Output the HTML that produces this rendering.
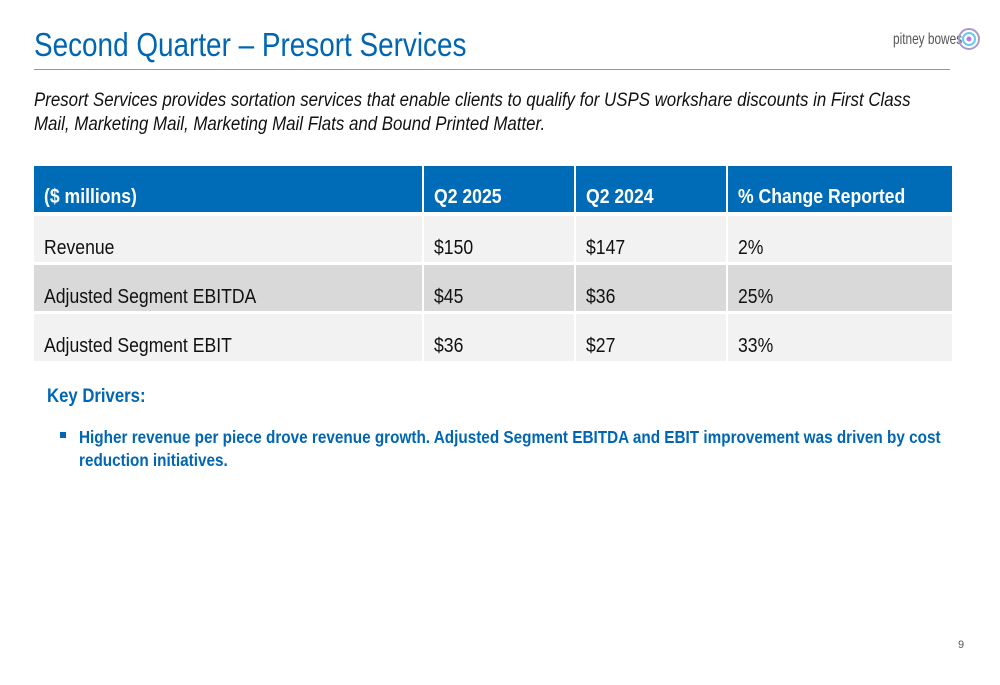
<!DOCTYPE html>
<html><head><meta charset="utf-8"><style>
body{margin:0;width:1000px;height:685px;background:#fff;position:relative;overflow:hidden;font-family:"Liberation Sans",sans-serif;}
.a{position:absolute;white-space:nowrap;transform-origin:0 0;}
.c{position:absolute;}
.cell{position:absolute;font-size:20px;color:#111;transform-origin:0 0;}
</style></head><body>
<div class="a" style="left:34px;top:26px;font-size:33px;color:#0066b3;transform:scaleX(0.845)">Second Quarter – Presort Services</div>
<div class="a" style="left:893px;top:31px;font-size:16px;color:#555;transform:scaleX(0.74)">pitney bowes</div>
<svg class="c" style="left:958px;top:28px" width="22" height="22"><circle cx="11" cy="11" r="10" fill="none" stroke="#a9c" stroke-width="2"/><circle cx="11" cy="11" r="6" fill="none" stroke="#6ce" stroke-width="2"/><circle cx="11" cy="11" r="2.5" fill="#b7d"/></svg>
<div class="c" style="left:34px;top:69px;width:916px;height:1px;background:#999"></div>
<div class="a" style="left:34px;top:88px;font-size:19.5px;font-style:italic;color:#111;line-height:24px;transform:scaleX(0.865)">Presort Services provides sortation services that enable clients to qualify for USPS workshare discounts in First Class<br>Mail, Marketing Mail, Marketing Mail Flats and Bound Printed Matter.</div>
<div>
<div class="c" style="left:34px;top:166px;width:388px;height:46px;background:#006cb7"></div>
<div class="c" style="left:424px;top:166px;width:150px;height:46px;background:#006cb7"></div>
<div class="c" style="left:576px;top:166px;width:150px;height:46px;background:#006cb7"></div>
<div class="c" style="left:728px;top:166px;width:224px;height:46px;background:#006cb7"></div>
<div class="cell" style="left:44px;top:186px;color:#fff;font-weight:bold;transform:scaleX(0.88)">($ millions)</div>
<div class="cell" style="left:434px;top:186px;color:#fff;font-weight:bold;transform:scaleX(0.88)">Q2 2025</div>
<div class="cell" style="left:586px;top:186px;color:#fff;font-weight:bold;transform:scaleX(0.88)">Q2 2024</div>
<div class="cell" style="left:738px;top:186px;color:#fff;font-weight:bold;transform:scaleX(0.88)">% Change Reported</div>
<div class="c" style="left:34px;top:216px;width:388px;height:46px;background:#f2f2f2"></div>
<div class="c" style="left:424px;top:216px;width:150px;height:46px;background:#f2f2f2"></div>
<div class="c" style="left:576px;top:216px;width:150px;height:46px;background:#f2f2f2"></div>
<div class="c" style="left:728px;top:216px;width:224px;height:46px;background:#f2f2f2"></div>
<div class="c" style="left:34px;top:265px;width:388px;height:46px;background:#d9d9d9"></div>
<div class="c" style="left:424px;top:265px;width:150px;height:46px;background:#d9d9d9"></div>
<div class="c" style="left:576px;top:265px;width:150px;height:46px;background:#d9d9d9"></div>
<div class="c" style="left:728px;top:265px;width:224px;height:46px;background:#d9d9d9"></div>
<div class="c" style="left:34px;top:314px;width:388px;height:47px;background:#f2f2f2"></div>
<div class="c" style="left:424px;top:314px;width:150px;height:47px;background:#f2f2f2"></div>
<div class="c" style="left:576px;top:314px;width:150px;height:47px;background:#f2f2f2"></div>
<div class="c" style="left:728px;top:314px;width:224px;height:47px;background:#f2f2f2"></div>
<div class="cell" style="left:44px;top:237px;transform:scaleX(0.88)">Revenue</div>
<div class="cell" style="left:434px;top:237px;transform:scaleX(0.88)">$150</div>
<div class="cell" style="left:586px;top:237px;transform:scaleX(0.88)">$147</div>
<div class="cell" style="left:738px;top:237px;transform:scaleX(0.88)">2%</div>
<div class="cell" style="left:44px;top:286px;transform:scaleX(0.88)">Adjusted Segment EBITDA</div>
<div class="cell" style="left:434px;top:286px;transform:scaleX(0.88)">$45</div>
<div class="cell" style="left:586px;top:286px;transform:scaleX(0.88)">$36</div>
<div class="cell" style="left:738px;top:286px;transform:scaleX(0.88)">25%</div>
<div class="cell" style="left:44px;top:335px;transform:scaleX(0.88)">Adjusted Segment EBIT</div>
<div class="cell" style="left:434px;top:335px;transform:scaleX(0.88)">$36</div>
<div class="cell" style="left:586px;top:335px;transform:scaleX(0.88)">$27</div>
<div class="cell" style="left:738px;top:335px;transform:scaleX(0.88)">33%</div>
</div>
<div class="a" style="left:47px;top:386px;font-size:19px;font-weight:bold;color:#0066b3;transform:scaleX(0.88)">Key Drivers:</div>
<div class="c" style="left:60px;top:432px;width:6px;height:6px;background:#0066b3"></div>
<div class="a" style="left:79px;top:426px;font-size:17.5px;font-weight:bold;color:#0066b3;line-height:23px;transform:scaleX(0.874)">Higher revenue per piece drove revenue growth. Adjusted Segment EBITDA and EBIT improvement was driven by cost<br>reduction initiatives.</div>
<div class="a" style="left:958px;top:639px;font-size:11px;color:#555">9</div>
</body></html>
